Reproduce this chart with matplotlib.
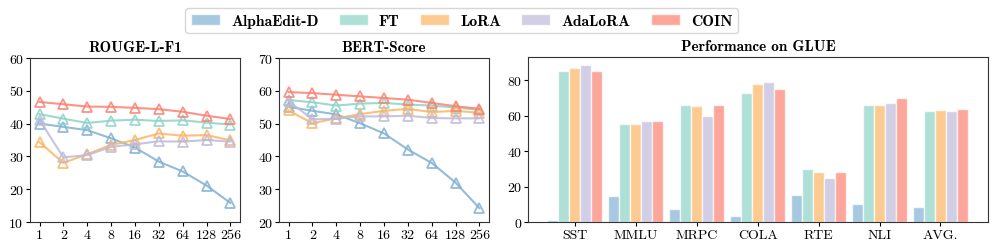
import numpy as np
import matplotlib
matplotlib.use("Agg")
import matplotlib.pyplot as plt
from matplotlib.patches import Patch

plt.rcParams['font.family'] = ['cmr10', 'DejaVu Serif']
plt.rcParams['axes.unicode_minus'] = False
plt.rcParams['axes.formatter.use_mathtext'] = False

methods = ['AlphaEdit-D', 'FT', 'LoRA', 'AdaLoRA', 'COIN']
colors = ['#80b1d3', '#8dd3c7', '#fdb462', '#bebada', '#fb8072']

steps = ['1', '2', '4', '8', '16', '32', '64', '128', '256']

rouge = {
    'AlphaEdit-D': [40.0, 39.0, 38.0, 35.5, 32.7, 28.4, 25.4, 21.1, 15.8],
    'FT':          [42.9, 41.5, 40.2, 40.9, 41.2, 40.8, 41.0, 40.3, 39.7],
    'LoRA':        [34.3, 28.0, 30.7, 33.5, 35.0, 37.0, 36.3, 36.5, 34.9],
    'AdaLoRA':     [41.1, 29.7, 30.4, 32.9, 33.7, 34.6, 34.5, 35.0, 34.5],
    'COIN':        [46.6, 45.9, 45.2, 45.1, 44.8, 44.4, 43.6, 42.4, 41.4],
}

bert = {
    'AlphaEdit-D': [55.1, 53.9, 52.8, 50.1, 47.0, 42.1, 38.0, 32.0, 24.2],
    'FT':          [57.2, 56.5, 55.5, 56.1, 56.3, 55.8, 55.5, 54.9, 54.2],
    'LoRA':        [54.0, 50.1, 51.6, 52.9, 53.9, 54.5, 53.5, 53.9, 53.3],
    'AdaLoRA':     [56.9, 51.3, 51.5, 52.2, 52.2, 52.4, 51.7, 51.6, 51.6],
    'COIN':        [59.6, 59.3, 58.8, 58.3, 57.8, 57.3, 56.3, 55.3, 54.5],
}

tasks = ['SST', 'MMLU', 'MRPC', 'COLA', 'RTE', 'NLI', 'AVG.']
glue = {
    'AlphaEdit-D': [1.3, 14.8, 7.1, 3.2, 15.2, 10.0, 8.5],
    'FT':          [85.3, 55.0, 65.7, 72.7, 29.7, 65.9, 62.3],
    'LoRA':        [86.6, 55.0, 65.4, 77.7, 28.0, 66.1, 63.3],
    'AdaLoRA':     [88.5, 56.9, 59.9, 79.1, 25.0, 67.2, 62.7],
    'COIN':        [85.3, 56.9, 66.1, 75.1, 28.0, 69.7, 63.7],
}

W, H = 996, 251
fig = plt.figure(figsize=(W / 100, H / 100), dpi=100)


def box(l, r, t, b):
    return [l / W, 1 - b / H, (r - l) / W, (b - t) / H]


ax1 = fig.add_axes(box(30, 240, 59, 223))
ax2 = fig.add_axes(box(279, 489, 59, 223))
ax3 = fig.add_axes(box(528, 988, 58, 223))


def line_panel(ax, data, title, ylim):
    x = np.arange(len(steps))
    for m, c in zip(methods, colors):
        ax.plot(x, data[m], color=c, lw=1.5, alpha=0.85, marker='^',
                markersize=7, markerfacecolor='none', markeredgewidth=1.3)
    ax.set_xticks(x)
    ax.set_xticklabels(steps)
    ax.set_ylim(*ylim)
    ax.set_yticks(np.arange(ylim[0], ylim[1] + 1, 10))
    ax.set_title(title, fontname='cmb10', fontsize=11, pad=5)
    ax.tick_params(labelsize=10, length=3, pad=2)


line_panel(ax1, rouge, 'ROUGE-L-F1', (10, 60))
line_panel(ax2, bert, 'BERT-Score', (20, 70))

x = np.arange(len(tasks))
bw = 0.18
for i, (m, c) in enumerate(zip(methods, colors)):
    ax3.bar(x + (i - 2) * bw, glue[m], width=bw, color=c, alpha=0.7,
            edgecolor='white', linewidth=1)
ax3.set_xticks(x)
ax3.set_xticklabels(tasks)
ax3.set_xlim(-0.77, 6.78)
ax3.set_ylim(0, 93)
ax3.set_yticks([0, 20, 40, 60, 80])
ax3.set_title('Performance on GLUE', fontname='cmb10', fontsize=11, pad=5)
ax3.tick_params(labelsize=10, length=3, pad=2)

for ax in (ax1, ax2, ax3):
    for s in ax.spines.values():
        s.set_color('#333333')

handles = [Patch(facecolor=c, alpha=0.7, edgecolor='white') for c in colors]
leg = fig.legend(handles, methods, loc='upper center', ncol=5,
                 bbox_to_anchor=(0.4635, 0.995), frameon=True,
                 prop={'family': 'cmb10', 'size': 11.3},
                 handlelength=1.85, handleheight=0.7, handletextpad=0.7,
                 columnspacing=1.3, borderpad=0.35)
leg.get_frame().set_edgecolor('#cccccc')

fig.savefig('out.png', dpi=100)
